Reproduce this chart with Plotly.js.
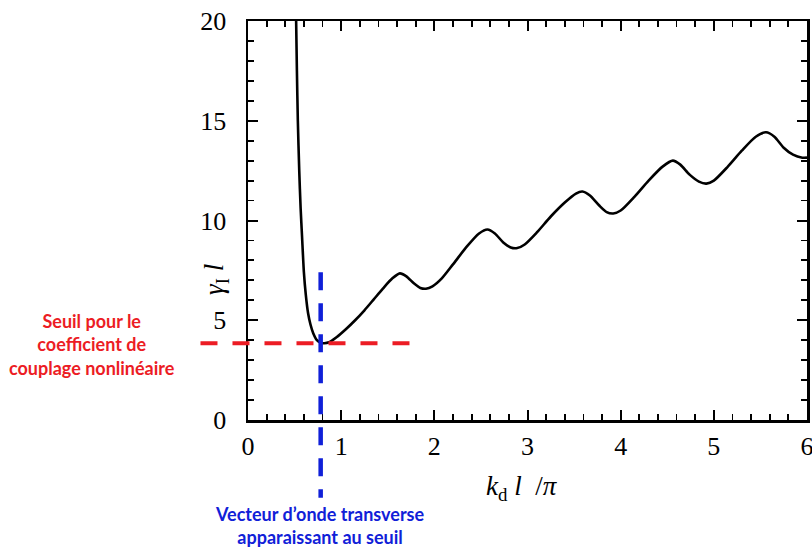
<!DOCTYPE html>
<html>
<head>
<meta charset="utf-8">
<script src="https://cdn.plot.ly/plotly-3.0.1.min.js"></script>
<style>
html,body{margin:0;padding:0;background:#fff;}
#chart{width:812px;height:549px;}
</style>
</head>
<body>
<div id="chart"></div>
<script>
// Curve: gamma_I * l versus k_d * l / pi
const kdl = [0.515, 0.525, 0.535, 0.55, 0.565, 0.58, 0.60, 0.62, 0.645, 0.67, 0.70, 0.74, 0.78, 0.82, 0.87, 0.95,
  1.05, 1.15, 1.25, 1.35, 1.45, 1.55, 1.63, 1.70, 1.78, 1.85, 1.91, 1.98, 2.08, 2.2, 2.35, 2.48, 2.57, 2.65,
  2.74, 2.82, 2.89, 2.97, 3.1, 3.25, 3.4, 3.52, 3.59, 3.67, 3.77, 3.85, 3.92, 4.0, 4.15, 4.3, 4.45, 4.56,
  4.64, 4.74, 4.84, 4.92, 5.0, 5.15, 5.3, 5.45, 5.56, 5.65, 5.75, 5.85, 5.95, 6.0];
const gammaL = [20.5, 17.5, 15.0, 12.5, 10.6, 9.2, 7.4, 6.3, 5.35, 4.8, 4.35, 4.0, 3.87, 3.85, 3.9, 4.15,
  4.55, 5.0, 5.5, 6.05, 6.6, 7.1, 7.35, 7.2, 6.85, 6.62, 6.58, 6.7, 7.1, 7.8, 8.7, 9.35, 9.55, 9.35,
  8.9, 8.65, 8.62, 8.8, 9.4, 10.2, 10.9, 11.35, 11.45, 11.25, 10.75, 10.42, 10.35, 10.5, 11.2, 12.0, 12.7, 13.0,
  12.8, 12.3, 11.95, 11.85, 12.0, 12.7, 13.5, 14.2, 14.42, 14.2, 13.65, 13.3, 13.15, 13.15];

// Threshold point (minimum of the curve)
const thresholdK = [0.78];
const thresholdGamma = [3.85];

const xTickVals = [0, 1, 2, 3, 4, 5, 6];
const xTickText = ['0', '1', '2', '3', '4', '5', '6'];
const yTickVals = [0, 5, 10, 15, 20];
const yTickText = ['0', '5', '10', '15', '20'];

const xRange = [0, 6];
const yRange = [0, 20];
const fx = v => (v - xRange[0]) / (xRange[1] - xRange[0]);
const fy = v => (v - yRange[0]) / (yRange[1] - yRange[0]);

const redLabel = ['Seuil pour le', 'coefficient de', 'couplage nonlinéaire'];
const blueLabel = ['Vecteur d’onde transverse', 'apparaissant au seuil'];

const RED = '#ec1c24';
const BLUE = '#1020d8';

const trace = {
  x: kdl, y: gammaL, type: 'scatter', mode: 'lines',
  line: {color: '#000', width: 2.6, shape: 'spline', smoothing: 0.7},
  hoverinfo: 'skip', showlegend: false
};

const tickFont = {family: 'Liberation Serif, Times New Roman, serif', size: 26, color: '#000'};

const axisCommon = {
  showgrid: false, zeroline: false, showline: true, linecolor: '#000', linewidth: 2.5,
  mirror: 'ticks', ticks: 'inside', ticklen: 10, tickwidth: 2, tickcolor: '#000',
  tickfont: tickFont, fixedrange: true, ticklabeloverflow: 'allow'
};

const layout = {
  width: 812, height: 549,
  margin: {l: 248, r: 5, t: 21, b: 129},
  paper_bgcolor: '#fff', plot_bgcolor: '#fff',
  xaxis: Object.assign({}, axisCommon, {
    range: xRange, tickmode: 'array', tickvals: xTickVals, ticktext: xTickText,
    minor: {dtick: 0.2, ticks: 'inside', ticklen: 6, tickwidth: 1.8, tickcolor: '#000', showgrid: false},
    ticklabelstandoff: 1
  }),
  yaxis: Object.assign({}, axisCommon, {
    range: yRange, tickmode: 'array', tickvals: yTickVals, ticktext: yTickText,
    minor: {dtick: 1, ticks: 'inside', ticklen: 6, tickwidth: 1.8, tickcolor: '#000', showgrid: false},
    ticklabelstandoff: 14
  }),
  shapes: [
    {type: 'line', xref: 'x domain', yref: 'y domain',
     x0: fx(-0.51), x1: fx(1.76), y0: fy(thresholdGamma[0]), y1: fy(thresholdGamma[0]),
     line: {color: RED, width: 4, dash: '17px,15px'}},
    {type: 'line', xref: 'x domain', yref: 'y domain',
     x0: fx(thresholdK[0]), x1: fx(thresholdK[0]), y0: fy(7.4), y1: fy(-3.9),
     line: {color: BLUE, width: 4.5, dash: '18px,13px'}}
  ],
  annotations: [
    {xref: 'paper', yref: 'paper', x: (92 - 248) / 559, y: 1 - (344 - 21) / 399,
     text: redLabel.join('<br>'), showarrow: false, xanchor: 'center', yanchor: 'middle',
     font: {family: 'Lato, Open Sans, sans-serif', size: 18, color: RED, weight: 'bold'}, align: 'center'},
    {xref: 'paper', yref: 'paper', x: (320 - 248) / 559, y: 1 - (525 - 21) / 399,
     text: blueLabel.join('<br>'), showarrow: false, xanchor: 'center', yanchor: 'middle',
     font: {family: 'Lato, Open Sans, sans-serif', size: 18, color: BLUE, weight: 'bold'}, align: 'center'},
    {xref: 'paper', yref: 'paper', x: (522 - 248) / 559, y: 1 - (488 - 21) / 399,
     text: '<i>k</i><sub>d</sub> <i>l</i>  /<i>π</i>', showarrow: false, xanchor: 'center', yanchor: 'middle',
     font: {family: 'Liberation Serif, Times New Roman, serif', size: 27, color: '#000'}},
    {xref: 'paper', yref: 'paper', x: (216 - 248) / 559, y: 1 - (280 - 21) / 399,
     text: '<i>γ</i><sub>I</sub> <i>l</i>', showarrow: false, xanchor: 'center', yanchor: 'middle', textangle: -90,
     font: {family: 'Liberation Serif, Times New Roman, serif', size: 27, color: '#000'}}
  ]
};

Plotly.newPlot('chart', [trace], layout, {displayModeBar: false, staticPlot: true});
</script>
</body>
</html>
